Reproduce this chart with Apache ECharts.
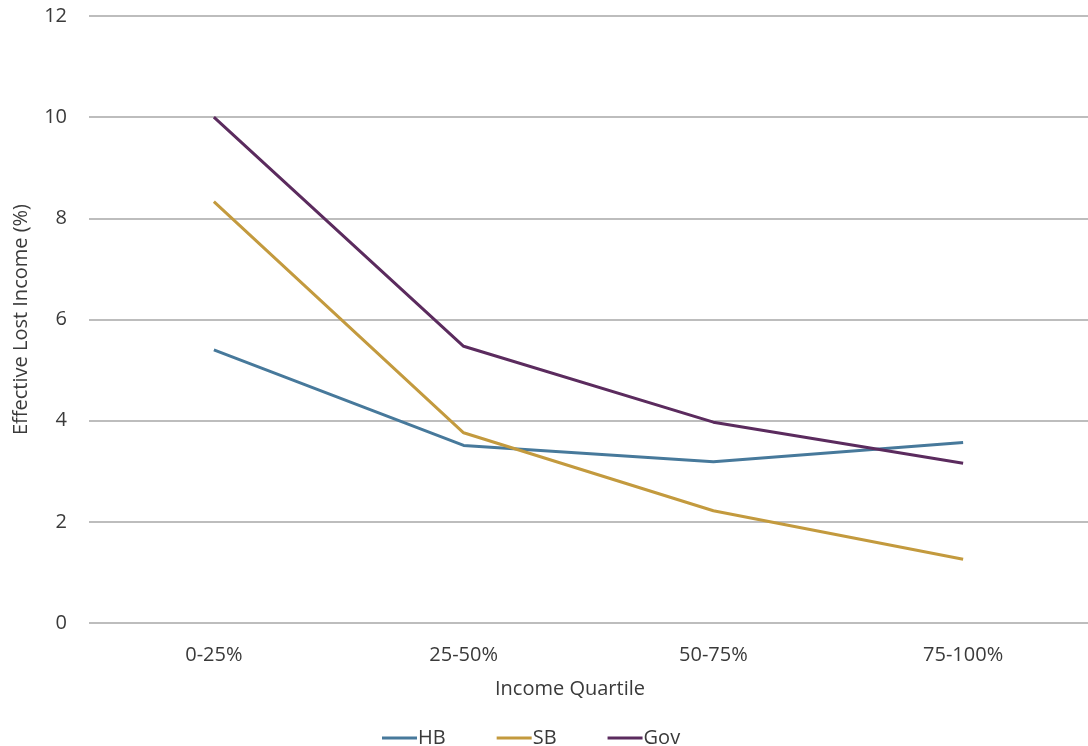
<!DOCTYPE html>
<html>
<head>
<meta charset="utf-8">
<script src="https://cdn.jsdelivr.net/npm/echarts@6/dist/echarts.min.js"></script>
<style>
  html, body { margin: 0; padding: 0; background: #ffffff; }
  #chart { width: 1088px; height: 746px; }
</style>
</head>
<body>
<div id="chart"></div>
<script>
// Income quartiles on the x axis
const quartiles = ['0-25%', '25-50%', '50-75%', '75-100%'];

// Effective lost income (%) per quartile for each scenario
const hbValues  = [5.40, 3.51, 3.19, 3.57];
const sbValues  = [8.33, 3.76, 2.22, 1.26];
const govValues = [10.0, 5.47, 3.97, 3.16];

// Y axis ticks
const yTicks = [0, 2, 4, 6, 8, 10, 12];

const seriesNames = ['HB', 'SB', 'Gov'];
const seriesColors = ['#47799b', '#c39a3e', '#5b2b5e'];
const seriesData = [hbValues, sbValues, govValues];

const textColor = '#3a3a3a';
const fontFamily = '"Open Sans", "Noto Sans", sans-serif';
const fontSize = 20;

const chart = echarts.init(document.getElementById('chart'), null, { renderer: 'canvas' });

chart.setOption({
  backgroundColor: '#ffffff',
  animation: false,
  textStyle: { fontFamily: fontFamily, color: textColor },
  grid: { left: 89, top: 16, width: 1015, height: 607, containLabel: false },
  legend: {
    left: 377,
    top: 723,
    icon: 'rect',
    itemWidth: 35,
    itemHeight: 3,
    itemGap: 51,
    textStyle: { fontSize: fontSize, color: textColor, fontFamily: fontFamily, padding: [0, 0, 0, -4] },
    data: seriesNames
  },
  xAxis: {
    type: 'category',
    data: quartiles,
    boundaryGap: true,
    axisLine: { show: false },
    axisTick: { show: false },
    axisLabel: { margin: 22, fontSize: fontSize, color: textColor },
    name: 'Income Quartile',
    nameLocation: 'middle',
    nameGap: 56,
    nameTextStyle: { fontSize: fontSize, color: textColor, padding: [0, 37, 0, 0] }
  },
  yAxis: {
    type: 'value',
    min: yTicks[0],
    max: yTicks[yTicks.length - 1],
    interval: yTicks[1] - yTicks[0],
    axisLine: { show: false },
    axisTick: { show: false },
    axisLabel: { margin: 22, fontSize: fontSize, color: textColor },
    splitLine: { lineStyle: { color: '#bdbdbd', width: 1.8 } },
    name: 'Effective Lost Income (%)',
    nameLocation: 'middle',
    nameGap: 58,
    nameRotate: 90,
    nameTextStyle: { fontSize: fontSize, color: textColor }
  },
  series: seriesNames.map((name, i) => ({
    name: name,
    type: 'line',
    data: seriesData[i],
    symbol: 'none',
    smooth: false,
    lineStyle: { color: seriesColors[i], width: 3 },
    itemStyle: { color: seriesColors[i] }
  }))
});
</script>
</body>
</html>
